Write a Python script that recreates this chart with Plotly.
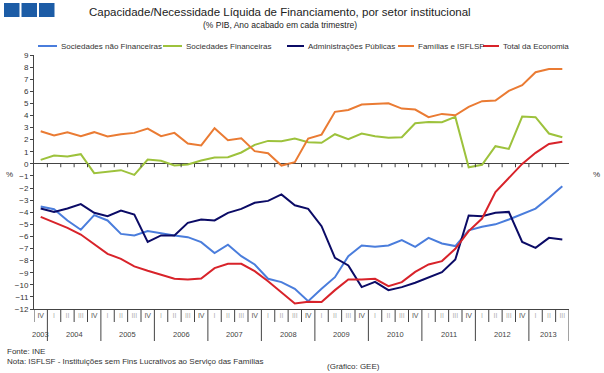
import plotly.graph_objects as go

# ---- data -------------------------------------------------------------
anos = (["2003"] + ["2004"] * 4 + ["2005"] * 4 + ["2006"] * 4 + ["2007"] * 4 +
        ["2008"] * 4 + ["2009"] * 4 + ["2010"] * 4 + ["2011"] * 4 + ["2012"] * 4 +
        ["2013"] * 3)
trimestres = ["IV"] + ["I", "II", "III", "IV"] * 9 + ["I", "II", "III"]

soc_nao_financeiras = [
    -3.53, -3.75, -4.68, -5.45, -4.24, -4.68, -5.79, -5.92, -5.56, -5.76,
    -5.92, -6.06, -6.47, -7.38, -6.69, -7.63, -8.32, -9.50, -9.78, -10.33,
    -11.35, -10.33, -9.37, -7.63, -6.75, -6.86, -6.75, -6.31, -6.86, -6.12,
    -6.58, -6.80, -5.50, -5.20, -5.00, -4.60, -4.15, -3.70, -2.80, -1.85]
soc_financeiras = [
    0.33, 0.69, 0.61, 0.80, -0.77, -0.63, -0.52, -0.91, 0.36, 0.25,
    -0.14, -0.05, 0.28, 0.52, 0.55, 0.94, 1.57, 1.90, 1.87, 2.09,
    1.79, 1.74, 2.45, 2.04, 2.51, 2.29, 2.15, 2.20, 3.36, 3.47,
    3.45, 3.88, -0.28, -0.08, 1.46, 1.24, 3.91, 3.86, 2.51, 2.20]
adm_publicas = [
    -3.69, -3.97, -3.69, -3.33, -4.05, -4.33, -3.86, -4.19, -6.45, -5.92,
    -5.92, -4.88, -4.60, -4.68, -4.05, -3.72, -3.22, -3.06, -2.53, -3.42,
    -3.72, -5.15, -7.77, -8.40, -10.19, -9.75, -10.44, -10.19, -9.83, -9.42,
    -8.95, -7.91, -4.27, -4.33, -4.05, -3.97, -6.45, -6.94, -6.12, -6.25]
familias_isflsf = [
    2.70, 2.34, 2.62, 2.29, 2.62, 2.26, 2.45, 2.56, 2.92, 2.29,
    2.56, 1.68, 1.52, 2.95, 1.96, 2.12, 1.05, 0.88, -0.14, 0.14,
    2.09, 2.42, 4.30, 4.46, 4.90, 4.96, 5.01, 4.57, 4.49, 3.86,
    4.13, 4.02, 4.71, 5.18, 5.23, 6.03, 6.50, 7.58, 7.85, 7.85]
total_economia = [
    -4.38, -4.82, -5.29, -5.84, -6.61, -7.44, -7.85, -8.48, -8.84, -9.20,
    -9.50, -9.56, -9.48, -8.62, -8.26, -8.26, -8.87, -9.70, -10.61, -11.54,
    -11.40, -11.43, -10.44, -9.56, -9.56, -9.50, -10.11, -9.78, -8.93, -8.32,
    -8.04, -7.02, -5.56, -4.52, -2.34, -1.16, 0.00, 0.91, 1.65, 1.82]

series_names = ["Sociedades não Financeiras", "Sociedades Financeiras",
                "Administrações Públicas", "Famílias e ISFLSF", "Total da Economia"]
series_values = [soc_nao_financeiras, soc_financeiras, adm_publicas,
                 familias_isflsf, total_economia]
series_colors = ["#4a7ddc", "#9dc23c", "#0b0b66", "#ea7b33", "#d8232a"]

y_min, y_max = -12, 9

# ---- layout geometry ---------------------------------------------------
W, H = 604, 373
ML, MR, MT, MB = 34, 35, 55, 64
PW, PH = W - ML - MR, H - MT - MB


def px_x(px):
    return (px - ML) / PW


def px_y(py):
    return (H - MB - py) / PH


def fmt_q(q):
    if q == "IV":
        return '<span style="color:#555">IV</span>'
    return '<span style="color:#b0b0b0">%s</span>' % q


n = len(trimestres)
cat_ids = ["%s %s" % (a, q) for a, q in zip(anos, trimestres)]

# year groups (centre index, boundaries) derived from the labels
year_order = []
for a in anos:
    if a not in year_order:
        year_order.append(a)
year_centres = {}
for a in year_order:
    idx = [i for i, v in enumerate(anos) if v == a]
    year_centres[a] = sum(idx) / len(idx)
year_bounds = [i - 0.5 for i in range(1, n) if anos[i] != anos[i - 1]] + [n - 0.5]
cat_bounds = [i - 0.5 for i in range(n + 1)]

fig = go.Figure()
for name, vals, col in zip(series_names, series_values, series_colors):
    fig.add_trace(go.Scatter(x=cat_ids, y=vals, name=name, mode="lines",
                             line=dict(color=col, width=2), showlegend=False))

axis_col = "#444"
FONT = "Liberation Sans, Arial, sans-serif"
tick_font = dict(size=8, color="#333")

fig.update_layout(
    width=W, height=H,
    margin=dict(l=ML, r=MR, t=MT, b=MB, pad=0),
    paper_bgcolor="white", plot_bgcolor="white",
    font=dict(family=FONT, size=8, color="#333"),
    showlegend=False,
    xaxis=dict(type="category", range=[-0.5, n - 0.5], showline=True,
               linecolor=axis_col, linewidth=1, ticks="", showgrid=False,
               zeroline=False, tickmode="array", tickvals=cat_ids,
               ticktext=[fmt_q(q) for q in trimestres], tickangle=0,
               tickfont=dict(size=7, color="#555"), automargin=False),
    yaxis=dict(range=[y_min, y_max], dtick=1, showgrid=False,
               zeroline=True, zerolinecolor=axis_col, zerolinewidth=1,
               showline=True, linecolor=axis_col, ticks="outside", ticklen=3,
               tickcolor=axis_col, tickfont=tick_font, automargin=False),
    yaxis2=dict(range=[y_min, y_max], dtick=1, overlaying="y", side="right",
                anchor="x", showgrid=False, zeroline=False, showline=True,
                linecolor=axis_col, ticks="outside", ticklen=3,
                tickcolor=axis_col, tickfont=tick_font, automargin=False),
    # inner halves of the crossing tick marks
    yaxis3=dict(range=[y_min, y_max], dtick=1, overlaying="y", side="left",
                anchor="x", showgrid=False, zeroline=False, showline=False,
                ticks="inside", ticklen=3, tickcolor=axis_col,
                showticklabels=False, automargin=False),
    yaxis4=dict(range=[y_min, y_max], dtick=1, overlaying="y", side="right",
                anchor="x", showgrid=False, zeroline=False, showline=False,
                ticks="inside", ticklen=3, tickcolor=axis_col,
                showticklabels=False, automargin=False),
)

# category separators under the plot, longer dividers between years
for b in cat_bounds:
    long_ = b in year_bounds
    fig.add_shape(type="line", xref="x", yref="paper", x0=b, x1=b,
                  y0=px_y(309), y1=px_y(341 if long_ else 322),
                  line=dict(color=axis_col, width=1))
# small ticks hanging under the zero line at category boundaries
for b in cat_bounds[1:-1]:
    fig.add_shape(type="line", xref="x", yref="y", x0=b, x1=b,
                  y0=0, y1=-0.28, line=dict(color=axis_col, width=1))

# year labels
for a in year_order:
    fig.add_annotation(xref="x", yref="paper", x=year_centres[a], y=px_y(334),
                       text=a, showarrow=False, xanchor="center", yanchor="middle",
                       font=dict(size=7.5, color="#444"))

ann = [
    dict(text="Capacidade/Necessidade Líquida de Financiamento, por setor institucional",
         x=px_x(280), y=px_y(12), font=dict(size=11.5, color="#222"),
         xanchor="center", yanchor="middle"),
    dict(text="(% PIB, Ano acabado em cada trimestre)", x=px_x(280), y=px_y(25),
         font=dict(size=8.5, color="#222"), xanchor="center", yanchor="middle"),
    dict(text="%", x=px_x(9), y=px_y(174), font=dict(size=8, color="#333"),
         xanchor="center", yanchor="middle"),
    dict(text="%", x=px_x(596), y=px_y(174), font=dict(size=8, color="#333"),
         xanchor="center", yanchor="middle"),
    dict(text="Fonte: INE", x=px_x(5), y=px_y(351), font=dict(size=8, color="#333"),
         xanchor="left", yanchor="middle"),
    dict(text="Nota: ISFLSF - Instituições sem Fins Lucrativos ao Serviço das Famílias",
         x=px_x(5), y=px_y(361), font=dict(size=8, color="#333"),
         xanchor="left", yanchor="middle"),
    dict(text="(Gráfico: GEE)", x=px_x(325), y=px_y(366),
         font=dict(size=8, color="#333"), xanchor="left", yanchor="middle"),
]
for a in ann:
    fig.add_annotation(xref="paper", yref="paper", showarrow=False, **a)

# legend (drawn manually to match the compact original layout)
leg_y = px_y(46)
leg_lines = [(38, 57), (163, 182), (287, 304), (398, 414), (483, 499)]
for (x0, x1), name, col in zip(leg_lines, series_names, series_colors):
    fig.add_shape(type="line", xref="paper", yref="paper",
                  x0=px_x(x0), x1=px_x(x1), y0=leg_y, y1=leg_y,
                  line=dict(color=col, width=2))
    fig.add_annotation(xref="paper", yref="paper", x=px_x(x1 + 1.5), y=leg_y,
                       text=name, showarrow=False, xanchor="left",
                       yanchor="middle", font=dict(size=8, color="#333"))

# logo squares
for x0 in (4, 21.5, 39):
    fig.add_shape(type="rect", xref="paper", yref="paper",
                  x0=px_x(x0), x1=px_x(x0 + 15.5), y0=px_y(17), y1=px_y(3),
                  fillcolor="#1c5ca6", line=dict(width=0))

fig.write_html("out.html", config={"displayModeBar": False})

# remove the browser's default page margin so the figure sits at (0, 0)
with open("out.html", encoding="utf-8") as f:
    html = f.read()
html = html.replace("<head>", "<head><style>html,body{margin:0;padding:0;overflow:hidden}</style>", 1)
with open("out.html", "w", encoding="utf-8") as f:
    f.write(html)
